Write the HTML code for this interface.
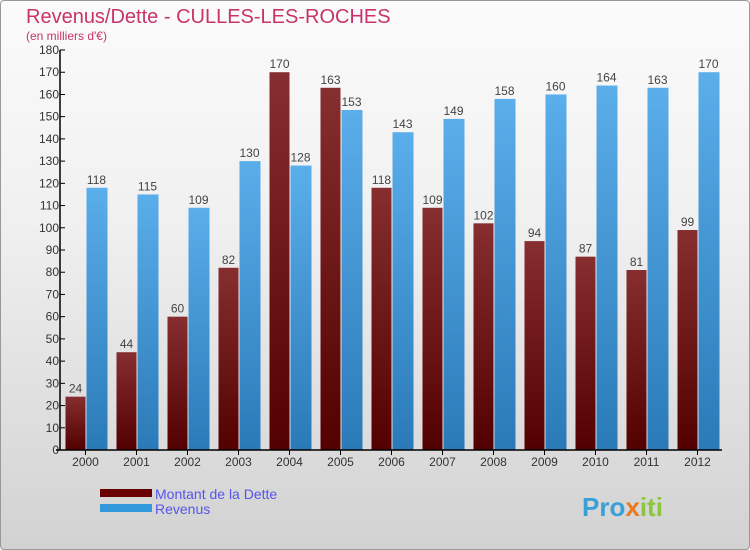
<!DOCTYPE html>
<html><head><meta charset="utf-8"><style>
body{margin:0;width:750px;height:550px;overflow:hidden;font-family:"Liberation Sans",sans-serif}
#wrap{position:relative;width:748px;height:548px;border:1px solid #999;border-radius:4px;background:linear-gradient(#fbfbfb,#f0f0f0 40%,#d2d2d2);overflow:hidden}
</style></head><body>
<div id="wrap">
<svg id="chart" width="750" height="550" style="position:absolute;left:-1px;top:-1px">
<defs>
<linearGradient id="gd" x1="0" y1="0" x2="0" y2="1"><stop offset="0" stop-color="#862e30"/><stop offset="1" stop-color="#530000"/></linearGradient>
<linearGradient id="gr" x1="0" y1="0" x2="0" y2="1"><stop offset="0" stop-color="#5aaeea"/><stop offset="1" stop-color="#2a7ab8"/></linearGradient>
</defs>
<text x="26" y="23" font-size="20" fill="#c8336a">Revenus/Dette - CULLES-LES-ROCHES</text>
<text x="26" y="40" font-size="12" fill="#c8336a">(en milliers d'€)</text>
<g id="bars"></g>
<g id="axes"></g>
<rect x="100" y="489" width="52" height="8" fill="#6b0000"/>
<rect x="100" y="504" width="52" height="8" fill="#3399dd"/>
<text x="155" y="499" font-size="14" fill="#5555ee">Montant de la Dette</text>
<text x="155" y="514" font-size="14" fill="#5555ee">Revenus</text>
<text x="582" y="516" font-size="26" font-weight="bold" fill="#3aa0d8">Pro<tspan fill="#e87a20">x</tspan><tspan fill="#8cc63f">iti</tspan></text>
</svg>
</div>
<script>
const years=["2000","2001","2002","2003","2004","2005","2006","2007","2008","2009","2010","2011","2012"];
const dette=[24,44,60,82,170,163,118,109,102,94,87,81,99];
const revenus=[118,115,109,130,128,153,143,149,158,160,164,163,170];
const yTicks=[0,10,20,30,40,50,60,70,80,90,100,110,120,130,140,150,160,170,180];
const NS="http://www.w3.org/2000/svg";
const y0=450,pxu=400/180,x0=60;
const yS=v=>y0-v*pxu;
const xC=i=>85.5+i*51;
function mk(t,a,p){const e=document.createElementNS(NS,t);for(const k in a)e.setAttribute(k,a[k]);p.appendChild(e);return e;}
const bars=document.getElementById('bars'),axes=document.getElementById('axes');
years.forEach((y,i)=>{
  const c=xC(i);
  const d=mk('rect',{x:c-20,y:yS(dette[i]),width:20,height:dette[i]*pxu,fill:'url(#gd)'},bars);
  
  
  const r=mk('rect',{x:c+1,y:yS(revenus[i]),width:21,height:revenus[i]*pxu,fill:'url(#gr)'},bars);
  
  
  const t1=mk('text',{x:c-10,y:yS(dette[i])-4,'font-size':12,fill:'#444','text-anchor':'middle'},bars);t1.textContent=dette[i];
  
  
  const t2=mk('text',{x:c+11,y:yS(revenus[i])-4,'font-size':12,fill:'#444','text-anchor':'middle'},bars);t2.textContent=revenus[i];
  
  
  const tk=mk('line',{x1:c,x2:c,y1:y0,y2:y0+5,stroke:'#000'},axes);
  
  
  const xl=mk('text',{x:c,y:466,'font-size':12,fill:'#333','text-anchor':'middle'},axes);xl.textContent=y;
  
  
});
yTicks.forEach(v=>{
  const tk=mk('line',{x1:x0,x2:x0+5,y1:yS(v),y2:yS(v),stroke:'#000'},axes);
  
  
  const l=mk('text',{x:x0-1,y:yS(v)+4,'font-size':12,fill:'#333','text-anchor':'end'},axes);l.textContent=v;
  
  
});
const ya=mk('line',{x1:x0,x2:x0,y1:yS(180),y2:y0,stroke:'#000','stroke-width':1.5},axes);


const xa=mk('line',{x1:x0-4,x2:722,y1:y0,y2:y0,stroke:'#000','stroke-width':1.5},axes);


</script>
</body></html>
